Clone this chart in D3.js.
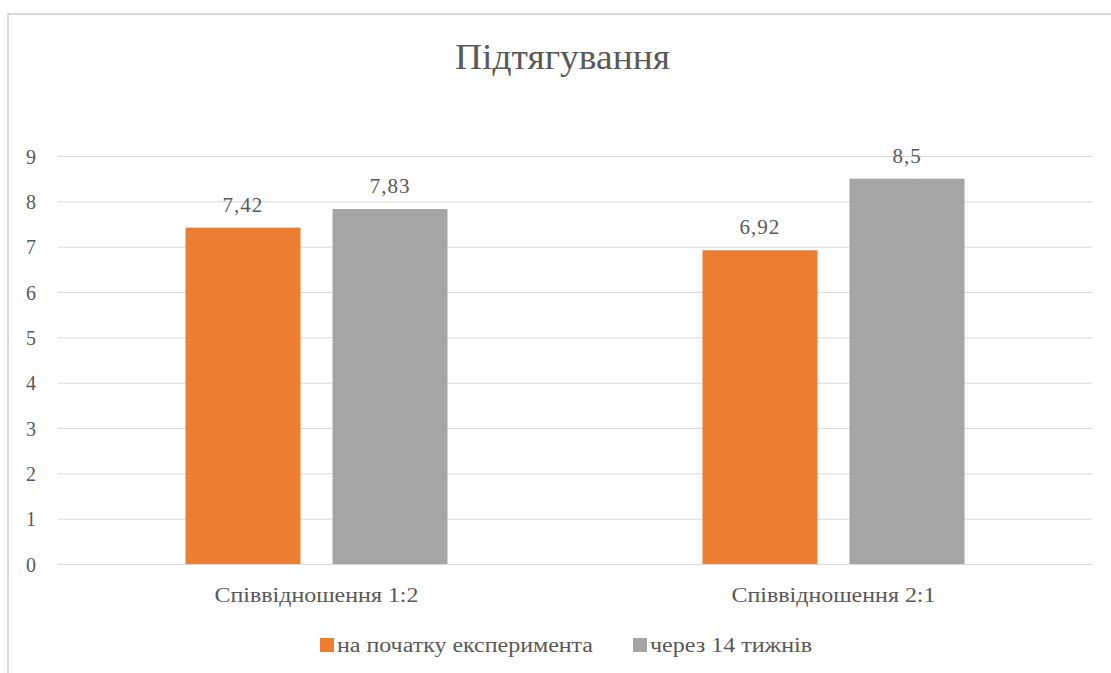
<!DOCTYPE html>
<html>
<head>
<meta charset="utf-8">
<script src="https://cdn.jsdelivr.net/npm/d3@7"></script>
<style>
  body { margin: 0; background: #fff; }
  svg text { font-family: "Liberation Serif", "Times New Roman", Times, "DejaVu Serif", "Noto Serif", serif !important; fill: #595959; }
</style>
</head>
<body>
<div id="chart"></div>
<script>
// chart data
const categories = ["Співвідношення 1:2", "Співвідношення 2:1"];
const seriesNames = ["на початку експеримента", "через 14 тижнів"];
const startValues = [7.42, 6.92];
const afterValues = [7.83, 8.5];
const valueLabels = [["7,42", "6,92"], ["7,83", "8,5"]];
const yTicks = [0, 1, 2, 3, 4, 5, 6, 7, 8, 9];
const colors = ["#ED7D31", "#A5A5A5"];

const serif = "'Liberation Serif', 'Times New Roman', Times, 'DejaVu Serif', serif";

function drawChart() {
    const W = 1111, H = 673;
    const margin = { top: 156, right: 19, bottom: 109, left: 58 },
        width = W - margin.left - margin.right,
        height = H - margin.top - margin.bottom;

    const root = d3.select("#chart")
        .append("svg")
        .attr("width", W)
        .attr("height", H)
        .attr("font-family", serif);

    // outer frame (only top and left edges are visible)
    root.append("path")
        .attr("d", "M8,673 L8,14 L1111,14")
        .attr("fill", "none")
        .attr("stroke", "#d9d9d9")
        .attr("stroke-width", 2);

    // title
    root.append("text")
        .attr("x", 562.5)
        .attr("y", 69)
        .attr("text-anchor", "middle")
        .attr("font-size", "36px")
        .attr("textLength", 215)
        .attr("lengthAdjust", "spacingAndGlyphs")
        .text("Підтягування");

    const svg = root.append("g")
        .attr("transform", "translate(" + margin.left + "," + margin.top + ")");

    // y scale + gridlines
    const y = d3.scaleLinear()
        .domain([0, 9])
        .range([height, 0]);

    const yAxis = svg.append("g")
        .call(d3.axisLeft(y).tickValues(yTicks).tickSize(-width).tickPadding(22).tickFormat(d3.format("d")))
        .attr("font-family", serif);
    yAxis.select(".domain").remove();
    yAxis.selectAll("line").attr("stroke", "#d9d9d9").attr("stroke-width", 1);
    yAxis.selectAll("text")
        .attr("font-size", "20px")
        .attr("fill", "#595959")
        .attr("dy", "0.35em");

    // x scales
    const x0 = d3.scaleBand()
        .domain(categories)
        .range([0, width]);
    const groupW = 262;
    const x1 = d3.scaleBand()
        .domain([0, 1])
        .range([(x0.bandwidth() - groupW) / 2, (x0.bandwidth() + groupW) / 2])
        .paddingInner(0.218);

    const xAxis = svg.append("g")
        .attr("transform", "translate(0," + height + ")")
        .call(d3.axisBottom(x0).tickSize(0).tickPadding(24))
        .attr("font-family", serif);
    xAxis.select(".domain").remove();
    xAxis.selectAll("text")
        .attr("font-size", "20px")
        .attr("fill", "#595959")
        .attr("dy", "0.7em")
        .attr("textLength", 204)
        .attr("lengthAdjust", "spacingAndGlyphs");

    const seriesValues = [startValues, afterValues];

    // bars
    seriesValues.forEach(function(vals, s) {
        svg.selectAll(".bar" + s)
            .data(categories)
            .enter()
            .append("rect")
            .attr("x", function(c) { return x0(c) + x1(s); })
            .attr("y", function(c, i) { return y(vals[i]); })
            .attr("width", x1.bandwidth())
            .attr("height", function(c, i) { return height - y(vals[i]); })
            .attr("fill", colors[s]);

        svg.selectAll(".lbl" + s)
            .data(categories)
            .enter()
            .append("text")
            .attr("x", function(c) { return x0(c) + x1(s) + x1.bandwidth() / 2; })
            .attr("y", function(c, i) { return y(vals[i]) - 16; })
            .attr("text-anchor", "middle")
            .attr("font-size", "21px")
            .attr("letter-spacing", "1px")
            .attr("fill", "#404040")
            .text(function(c, i) { return valueLabels[s][i]; });
    });

    // legend
    const legendItems = [
        { x: 320, w: 256 },
        { x: 633, w: 162 }
    ];
    const legend = root.append("g");
    seriesNames.forEach(function(name, s) {
        legend.append("rect")
            .attr("x", legendItems[s].x)
            .attr("y", 638)
            .attr("width", 14)
            .attr("height", 14)
            .attr("fill", colors[s]);
        legend.append("text")
            .attr("x", legendItems[s].x + 17)
            .attr("y", 652)
            .attr("font-size", "20px")
            .attr("textLength", legendItems[s].w)
            .attr("lengthAdjust", "spacingAndGlyphs")
            .text(name);
    });
}

drawChart();
</script>
</body>
</html>
